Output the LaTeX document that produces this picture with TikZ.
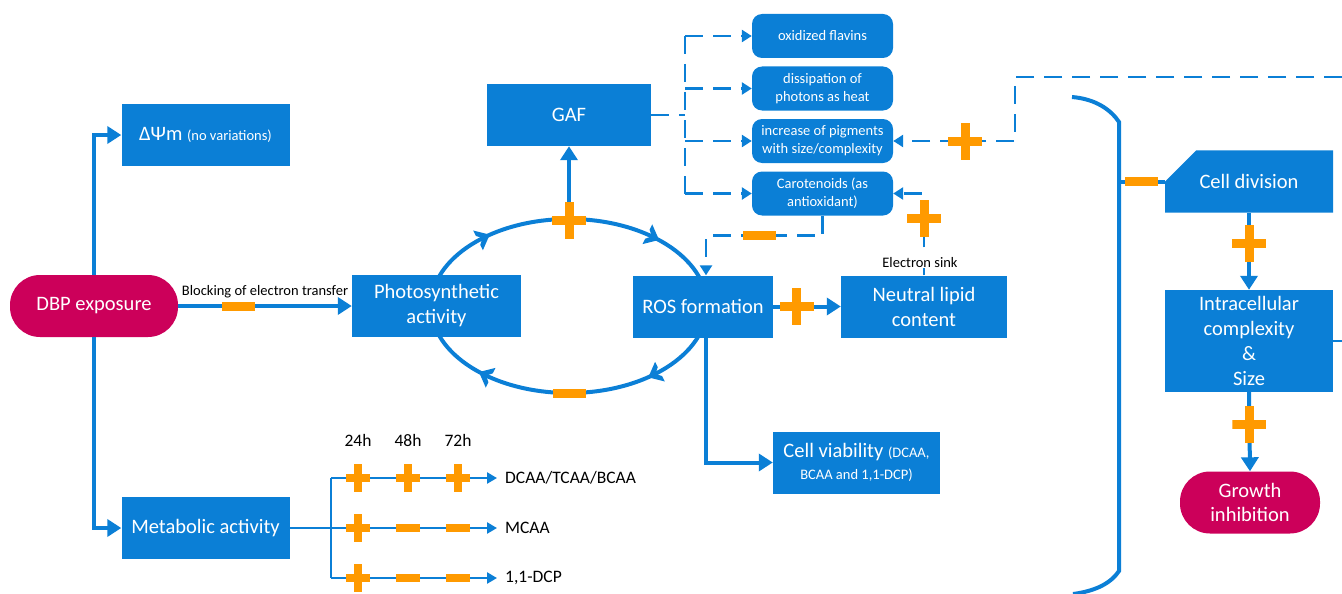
\documentclass[tikz,border=0pt]{standalone}
\usepackage{fontspec}
\setmainfont{Carlito}
\usepackage{xcolor}
\usetikzlibrary{positioning}
\usetikzlibrary{arrows.meta, decorations.markings, shapes.misc}
\definecolor{boxblue}{HTML}{0B7FD6}
\definecolor{signorange}{HTML}{FF9A00}
\definecolor{endred}{HTML}{CC005A}
\newcommand{\cyclechevron}{\fill[boxblue] (6pt,0pt) -- (-7pt,11pt) -- (-7pt,5pt) -- (-2pt,0pt) -- (-7pt,-5pt) -- (-7pt,-11pt) -- cycle;}
\tikzset{
    box/.style={rectangle, fill=boxblue, text=white, minimum height=62, minimum width=168, align=center, inner sep=2, font=\fontsize{20.5}{25}\selectfont},
    ebox/.style={rectangle, rounded corners=10, fill=boxblue, text=white, minimum height=44, minimum width=141, align=center, inner sep=1, font=\fontsize{14.5}{18}\selectfont},
    endpoint/.style={rectangle, rounded corners=30, fill=endred, text=white, minimum height=62, minimum width=168, align=center, font=\fontsize{20.5}{24}\selectfont},
    arrow/.style={boxblue, line width=4, -{Triangle[length=14pt,width=17pt]}},
    link/.style={boxblue, line width=4},
    dasharrow/.style={boxblue, line width=2.5, dash pattern=on 18pt off 10pt, -{Triangle[length=10pt,width=12pt]}},
    dashlink/.style={boxblue, line width=2.5, dash pattern=on 18pt off 10pt},
    trunk/.style={boxblue, line width=2.5},
    branch/.style={boxblue, line width=2.5, -{Triangle[length=10pt,width=11pt]}},
    minus/.style={rectangle, fill=signorange, inner sep=0, minimum width=33, minimum height=9},
    sminus/.style={minus, minimum width=24, minimum height=7.5},
    cross/.style n args={3}{rectangle, inner sep=0, minimum width=#1, minimum height=#2,
        path picture={\fill[signorange] ([yshift=-#3/2]path picture bounding box.west) rectangle ([yshift=#3/2]path picture bounding box.east);
                      \fill[signorange] ([xshift=-#3/2]path picture bounding box.south) rectangle ([xshift=#3/2]path picture bounding box.north);}},
    plus/.style={cross={34}{37}{9}},
    splus/.style={cross={24}{28}{7.5}},
    note/.style={text=black, inner sep=1, font=\fontsize{14.5}{18}\selectfont},
    rowlabel/.style={anchor=west, inner sep=0, text=black, font=\fontsize{17.5}{20}\selectfont},
    cyclearrow/.style={decoration={markings,
        mark=at position 0.128 with {\cyclechevron},
        mark=at position 0.372 with {\cyclechevron},
        mark=at position 0.628 with {\cyclechevron},
        mark=at position 0.872 with {\cyclechevron}},
        postaction=decorate}
}

\begin{document}
\begin{tikzpicture}[x=1pt, y=-1pt]
\useasboundingbox (0,0) rectangle (1342,594);

% photosynthesis / ROS cycle, behind the boxes
\draw [link, cyclearrow] (569,306) ellipse [x radius=138, y radius=87];
\coordinate (etop) at (569,219);
\coordinate (ebot) at (569,393);

\node [endpoint]                               (dbp)     at (94,306)     {DBP exposure};
\node [box]                                    (dpsi)    at (205.5,135)  {ΔΨm {\fontsize{14.5}{18}\selectfont (no variations)}};
\node [box]                                    (metab)   at (205.5,528)  {Metabolic activity};
\node [box, minimum width=169]                 (photo)   at (436.5,306)  {Photosynthetic\\activity};
\node [box, minimum width=140]                 (ros)     at (703,306.5)  {ROS formation};
\node [box, minimum width=166]                 (lipid)   at (924,306.5)  {Neutral lipid\\content};
\node [box, minimum width=164]                 (gaf)     at (569,115)    {GAF};
\node [box, minimum width=167]                 (viab)    at (856.5,462.5) {Cell viability {\fontsize{14.5}{18}\selectfont (DCAA,}\\[-3pt]{\fontsize{14.5}{18}\selectfont BCAA and 1,1-DCP)}};

\node [ebox]                                   (flav)    at (822.5,36)   {oxidized flavins};
\node [ebox]                                   (heat)    at (822.5,88.5) {dissipation of\\photons as heat};
\node [ebox]                                   (pigm)    at (822.5,141)  {increase of pigments\\with size/complexity};
\node [ebox]                                   (carot)   at (822.5,193.5) {Carotenoids (as\\antioxidant)};

\node [box, chamfered rectangle, chamfered rectangle corners=north west,
       chamfered rectangle xsep=25pt, chamfered rectangle ysep=22pt]
                                               (cell)    at (1249,181.5) {Cell division};
\node [box, minimum height=102]                (intra)   at (1249,341)   {Intracellular\\complexity\\\&\\Size};
\node [endpoint, minimum width=140]            (growth)  at (1250,502.5) {Growth\\inhibition};

% exposure
\draw [arrow] (dbp.north) |- (dpsi.west);
\draw [arrow] (dbp.south) |- (metab.west);
\draw [arrow] (dbp.east) -- node [minus, pos=.35] (mblock) {}
                            node [note, above=5pt, midway] (block) {Blocking of electron transfer} (photo.west);

% cycle signs and GAF
\draw [arrow] (etop) -- (gaf.south);
\node [plus]  (ptop) at (569,220) {};
\node [minus] (mbot) at (ebot) {};

% GAF effects
\coordinate (gtree) at (685,115);
\draw [dashlink] (gaf.east) -- (gtree);
\draw [dashlink] (gtree |- flav.west) -- (gtree |- carot.west);
\foreach \eff in {flav,heat,pigm,carot}
    \draw [dasharrow] (gtree |- \eff.west) -- (\eff.west);

\draw [dasharrow] (carot.south) -- ++(0,20) -| node [minus, pos=.27] (mcarot) {} ([xshift=3pt]ros.north);
\draw [dasharrow] (lipid.north) |- node [plus, pos=.35] (psink) {}
                                   node [note, pos=.08, fill=white, xshift=-4pt] (sink) {Electron sink} (carot.east);

% ROS outcomes
\draw [arrow] (ros.east) -- node [plus, pos=.35] (plipid) {} (lipid.west);
\draw [arrow] ([xshift=3pt]ros.south) |- (viab.west);

% feedback from cell growth
\coordinate (edge1) at (1342,77);
\coordinate (fbturn) at (1015,141);
\draw [dasharrow] (edge1) -| (fbturn) -- node [plus, pos=.41] (ppigm) {} (pigm.east);

% bracket and cell growth
\draw [link] (1072,97) .. controls (1096,99) and (1111,110) .. (1119,122) -- (1119,571)
             .. controls (1111,583) and (1096,591) .. (1073,594);
\coordinate (brk) at (1119,181.5);
\draw [link] (cell.west -| brk) -- node [minus] (mcell) {} (cell.west);
\draw [arrow] (cell.south) -- node [plus, pos=.4] (pcell) {} (intra.north);
\draw [arrow] (intra.south) -- node [plus, pos=.41] (pintra) {} (growth.north);
\coordinate (edge2) at (1342,341);
\draw [trunk] (intra.east) -- (edge2);

% metabolic activity over time
\foreach \t/\x in {24h/358, 48h/408, 72h/458}
    \node [rowlabel, anchor=center] (t\t) at (\x,440) {\t};
\node [rowlabel] (dcaa) at (505,478) {DCAA/TCAA/BCAA};
\node [rowlabel] (mcaa) at (505,528) {MCAA};
\node [rowlabel] (dcp)  at (505,578) {1,1-DCP};
\coordinate (split) at (331,528);
\draw [trunk] (metab.east) -- (split);
\draw [trunk] (split |- dcaa.west) -- (split |- dcp.west);
\foreach \row/\ma/\mb/\mc in {dcaa/splus/splus/splus, mcaa/splus/sminus/sminus, dcp/splus/sminus/sminus}
    \draw [branch] (split |- \row.west) -- node [\ma, pos=.163] (\row a) {}
                                           node [\mb, pos=.464] (\row b) {}
                                           node [\mc, pos=.765] (\row c) {} ([xshift=-8pt]\row.west);

\end{tikzpicture}
\end{document}
